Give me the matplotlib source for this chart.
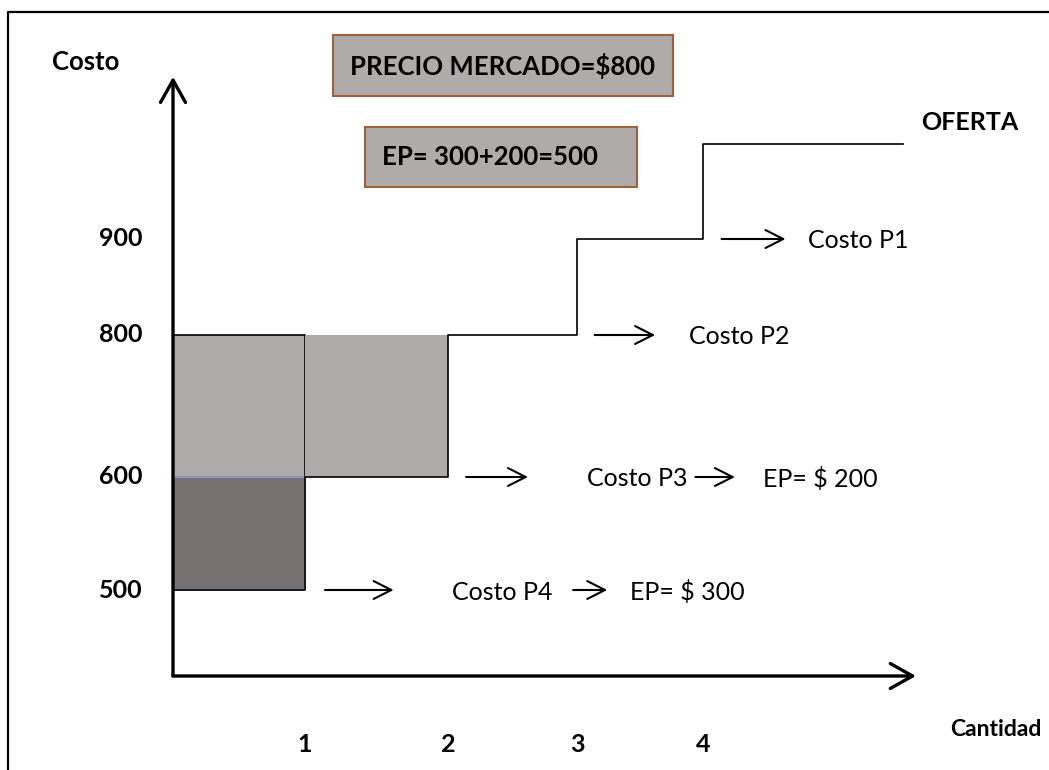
import numpy as np
import matplotlib
matplotlib.use("Agg")
import matplotlib.pyplot as plt
from matplotlib.patches import Rectangle

# curva de oferta en escalones (cantidad acumulada, costo de cada productor)
cantidad = [0, 1, 2, 3, 4, 5.5]
costo = [500, 600, 800, 900, 1000, 1000]
productores = ["Costo P4", "Costo P3", "Costo P2", "Costo P1"]
etiquetas_costo = [500, 600, 800, 900]
etiquetas_cantidad = [1, 2, 3, 4]
precio_mercado = 800

W, H = 1049, 770
plt.rcParams['font.family'] = ['Lato', 'DejaVu Sans']

# escalas del dibujo (no lineales, como en el original)
x_datos = [-1.3, 0, 1, 2, 3, 4, 6.6]
x_px = [0, 173, 305, 448, 577, 703, 1049]
y_datos = [300, 400, 500, 600, 800, 900, 1000, 1150]
y_px = [0, 94, 180, 293, 435, 531, 626, 770]

def escala(d, p):
    return (lambda v: np.interp(v, d, p), lambda v: np.interp(v, p, d))

fig = plt.figure(figsize=(W / 100, H / 100), dpi=100)

# lienzo en pixeles para marco y cajas
lienzo = fig.add_axes([0, 0, 1, 1])
lienzo.set_xlim(0, W)
lienzo.set_ylim(H, 0)
lienzo.axis('off')

ax = fig.add_axes([0, 0, 1, 1])
ax.set_xscale('function', functions=escala(x_datos, x_px))
ax.set_yscale('function', functions=escala(y_datos, y_px))
ax.set_xlim(-1.3, 6.6)
ax.set_ylim(300, 1150)
ax.axis('off')
ax.patch.set_alpha(0)

# marco
lienzo.plot([8, 8, W], [H, 12, 12], color='black', lw=1.6)

# cajas de texto
lienzo.add_patch(Rectangle((333, 35), 340, 61, fc='#afabab', ec='#a0603a', lw=1.5))
lienzo.text(503, 66, "PRECIO MERCADO=$%d" % precio_mercado, ha='center', va='center',
            fontsize=18.5, fontweight='bold')
ep = [precio_mercado - c for c in costo if c < precio_mercado]
lienzo.add_patch(Rectangle((365, 127), 272, 60, fc='#afabab', ec='#a0603a', lw=1.5))
lienzo.text(382, 157, "EP= %d+%d=%d" % (ep[0], ep[1], sum(ep)), ha='left', va='center',
            fontsize=18.5, fontweight='bold')

# excedente del productor
gris = '#aeaaa9'
ax.bar(cantidad[0], precio_mercado - costo[1], bottom=costo[1], width=1, align='edge',
       color=gris, edgecolor='black', lw=1.2)
ax.bar(cantidad[1], precio_mercado - costo[1], bottom=costo[1], width=1, align='edge',
       color=gris, edgecolor='none')
ax.bar(cantidad[0], costo[1] - costo[0], bottom=costo[0], width=1, align='edge',
       color='#767170', edgecolor='#8eaadb', lw=1.2)

# oferta
ax.step(cantidad, costo, where='post', color='black', lw=1.2)

# ejes
flecha = dict(arrowstyle='->,head_length=0.8,head_width=0.45', lw=2.4, color='black',
              mutation_scale=20, shrinkA=0, shrinkB=0)
ax.annotate('', xy=(0, 1070), xytext=(0, 400), arrowprops=flecha)
ax.annotate('', xy=(5.6, 400), xytext=(0, 400), arrowprops=flecha)

# flechas y rotulos de cada productor
x_texto = [2.03, 3.08, 3.89, 4.79]
x_ep = [(2.97, 3.24, 3.42), (3.94, 4.24, 4.45)]
chica = dict(arrowstyle='->,head_length=0.85,head_width=0.43', lw=1.5, color='black',
             mutation_scale=15, shrinkA=0, shrinkB=0)
for i, nombre in enumerate(productores):
    ax.annotate('', xy=(cantidad[i + 1] + 0.62, costo[i]),
                xytext=(cantidad[i + 1] + 0.14, costo[i]), arrowprops=chica)
    ax.text(x_texto[i], costo[i], nombre, ha='left', va='center_baseline', fontsize=18)
    if costo[i] < precio_mercado:
        a, b, t = x_ep[i]
        ax.annotate('', xy=(b, costo[i]), xytext=(a, costo[i]), arrowprops=chica)
        ax.text(t, costo[i], "EP= $ %d" % (precio_mercado - costo[i]), ha='left',
                va='center_baseline', fontsize=18)

# rotulos de ejes
for c in etiquetas_costo:
    ax.text(143 / W, c, str(c), transform=ax.get_yaxis_transform(), ha='right',
            va='center', fontsize=18, fontweight='bold')
for q in etiquetas_cantidad:
    ax.text(q, 1 - 745 / H, str(q), transform=ax.get_xaxis_transform(), ha='center',
            va='center', fontsize=18, fontweight='bold')
lienzo.text(86, 62, "Costo", ha='center', va='center', fontsize=18.5, fontweight='bold')
lienzo.text(970, 123, "OFERTA", ha='center', va='center', fontsize=18, fontweight='bold')
lienzo.text(996, 730, "Cantidad", ha='center', va='center', fontsize=16.5, fontweight='bold')

fig.savefig("out.png", dpi=100)
